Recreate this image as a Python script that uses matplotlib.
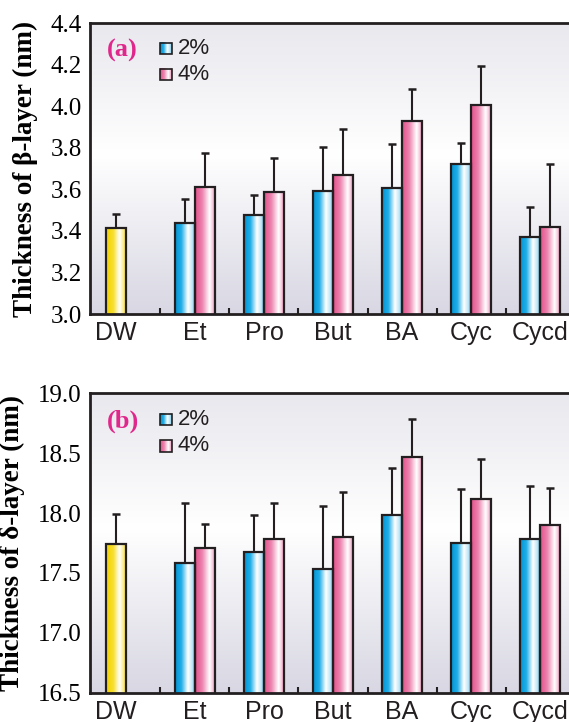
import numpy as np
import matplotlib
matplotlib.use('Agg')
import matplotlib.pyplot as plt
from matplotlib.colors import LinearSegmentedColormap
from matplotlib.patches import Rectangle

# data
cats = ['DW', 'Et', 'Pro', 'But', 'BA', 'Cyc', 'Cycd']
legend_labels = ['2%', '4%']

# (a) beta-layer
dw_beta = 3.415
dw_beta_err = 0.065
beta_2 = [3.436, 3.475, 3.592, 3.605, 3.721, 3.370]
beta_2_err = [0.117, 0.096, 0.213, 0.211, 0.102, 0.143]
beta_4 = [3.609, 3.585, 3.669, 3.927, 4.004, 3.417]
beta_4_err = [0.164, 0.167, 0.219, 0.155, 0.187, 0.304]

# (b) delta-layer
dw_delta = 17.744
dw_delta_err = 0.25
delta_2 = [17.583, 17.672, 17.533, 17.983, 17.752, 17.786]
delta_2_err = [0.50, 0.31, 0.53, 0.39, 0.45, 0.44]
delta_4 = [17.708, 17.786, 17.800, 18.465, 18.119, 17.902]
delta_4_err = [0.20, 0.30, 0.375, 0.32, 0.33, 0.31]

serif = 'Liberation Serif'
sans = 'Liberation Sans'
narrow = ['Liberation Sans Narrow', 'Liberation Sans']
dark = '#231f20'

cm_blue = LinearSegmentedColormap.from_list('b', [(0, '#0096d8'), (0.3, '#20aee6'), (0.62, '#ffffff'), (0.8, '#c8eaf9'), (1, '#6cc6ee')])
cm_pink = LinearSegmentedColormap.from_list('p', [(0, '#e4508b'), (0.35, '#ec86b0'), (0.7, '#ffffff'), (0.85, '#f7c8dc'), (1, '#e985b0')])
cm_yell = LinearSegmentedColormap.from_list('y', [(0, '#f3d300'), (0.35, '#f7df30'), (0.65, '#ffffff'), (0.85, '#fbeb80'), (1, '#f5dc20')])
cm_bg = LinearSegmentedColormap.from_list('bg', [(0, '#d8d7e3'), (0.55, '#ffffff'), (1, '#e8e8ee')])

hgrad = np.linspace(0, 1, 64).reshape(1, -1)
vgrad = np.linspace(0, 1, 128).reshape(-1, 1)

W = 0.29
x = np.arange(len(cats))


def fill_bars(ax, bars, cmap):
    for b in bars:
        x0, y0 = b.get_x(), ax.get_ylim()[0]
        ax.imshow(hgrad, cmap=cmap, extent=[x0, x0 + b.get_width(), y0, b.get_height()],
                  aspect='auto', interpolation='bilinear', zorder=2)


def panel(ax, dw, dw_err, v2, e2, v4, e4, ylim, yticks, ylabel, tag):
    ax.set_xlim(-0.52, 6.52)
    ax.set_ylim(*ylim)
    ax.imshow(vgrad, cmap=cm_bg, extent=[0, 1, 0, 1], transform=ax.transAxes,
              origin='lower', aspect='auto', zorder=0)

    b0 = ax.bar([x[0] - W / 2], [dw], W, facecolor='none', edgecolor=dark, lw=1.6, zorder=3)
    b2 = ax.bar(x[1:] - W / 2, v2, W, facecolor='none', edgecolor=dark, lw=1.6, zorder=3)
    b4 = ax.bar(x[1:] + W / 2, v4, W, facecolor='none', edgecolor=dark, lw=1.6, zorder=3)
    fill_bars(ax, b0, cm_yell)
    fill_bars(ax, b2, cm_blue)
    fill_bars(ax, b4, cm_pink)

    ekw = dict(fmt='none', ecolor=dark, elinewidth=1.5, capsize=3, capthick=1.8, zorder=1.5)
    ax.errorbar([x[0] - W / 2], [dw], yerr=[[0], [dw_err]], **ekw)
    ax.errorbar(x[1:] - W / 2, v2, yerr=[np.zeros(6), e2], **ekw)
    ax.errorbar(x[1:] + W / 2, v4, yerr=[np.zeros(6), e4], **ekw)

    ax.set_yticks(yticks)
    ax.set_yticklabels(['%.1f' % t for t in yticks], family=serif, fontsize=18)
    ax.tick_params(axis='y', length=0, pad=6)

    ax.set_xticks(np.arange(0.5, 6.6, 1.0))
    ax.set_xticklabels([])
    ax.tick_params(axis='x', direction='in', length=4, width=1.5, color=dark)
    for i, c in enumerate(cats):
        xp = x[i] - W / 2 if i == 0 else x[i]
        ax.annotate(c, (xp, 0), xycoords=('data', 'axes fraction'), xytext=(0, -19),
                    textcoords='offset points', ha='center', va='baseline',
                    family=narrow, fontsize=18, color=dark, annotation_clip=False)

    ax.set_ylabel(ylabel, family=serif, fontweight='bold', fontsize=19.5, labelpad=9)

    for s in ['top', 'left', 'bottom']:
        ax.spines[s].set_linewidth(2)
        ax.spines[s].set_color(dark)
    ax.spines['right'].set_visible(False)

    ax.text(0.035, 0.905, tag, transform=ax.transAxes, family=serif, fontweight='bold',
            fontsize=19, color='#e0288c', va='center')
    for k, (lab, cm) in enumerate(zip(legend_labels, [cm_blue, cm_pink])):
        yc = 0.912 - k * 0.088
        ax.imshow(hgrad, cmap=cm, extent=[0.145, 0.168, yc - 0.019, yc + 0.019],
                  transform=ax.transAxes, aspect='auto', zorder=5)
        ax.add_patch(Rectangle((0.145, yc - 0.019), 0.023, 0.038, transform=ax.transAxes,
                               fill=False, edgecolor=dark, lw=1.2, zorder=6))
        ax.text(0.181, yc, lab, transform=ax.transAxes, family=sans, fontsize=16,
                color=dark, va='center')
    ax.set_xlim(-0.52, 6.52)
    ax.set_ylim(*ylim)


fig = plt.figure(figsize=(5.69, 7.22), dpi=100)
ax1 = fig.add_axes([90 / 569, 408 / 722, 486 / 569, 291 / 722])
ax2 = fig.add_axes([90 / 569, 29.3 / 722, 486 / 569, 299.4 / 722])

panel(ax1, dw_beta, dw_beta_err, beta_2, beta_2_err, beta_4, beta_4_err,
      (3.0, 4.4), np.arange(3.0, 4.41, 0.2), 'Thickness of \u03b2-layer (nm)', '(a)')
panel(ax2, dw_delta, dw_delta_err, delta_2, delta_2_err, delta_4, delta_4_err,
      (16.5, 19.0), np.arange(16.5, 19.01, 0.5), 'Thickness of \u03b4-layer (nm)', '(b)')

fig.savefig('out.png', dpi=100)
